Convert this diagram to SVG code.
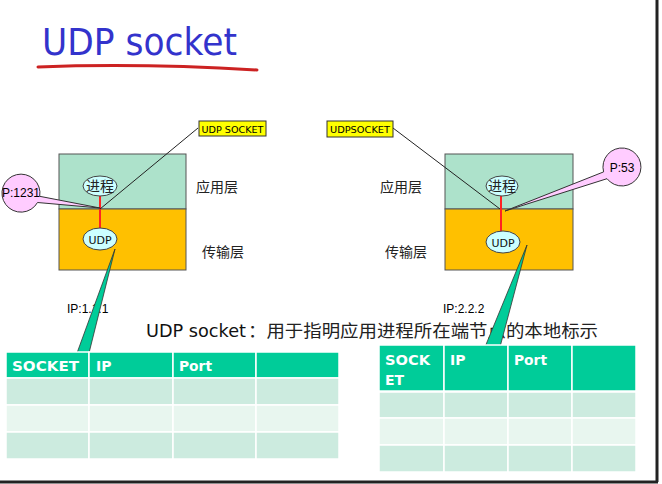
<svg xmlns="http://www.w3.org/2000/svg" width="662" height="484" viewBox="0 0 662 484">
<style>
.app{fill:#ADE2CB;stroke:#555;stroke-width:1}
.tr{fill:#FFC000;stroke:#555;stroke-width:1}
.ell{fill:#CCFFFF;stroke:#444;stroke-width:1}
.lbl{font-family:"Liberation Sans","Noto Sans CJK SC",sans-serif;font-size:12px;fill:#000}
.cn{font-family:"Noto Sans CJK SC","Liberation Sans",sans-serif;font-size:14px;fill:#222}
.comic{font-family:"DejaVu Sans","Noto Sans CJK SC",sans-serif}
.tag{fill:#FFFF00;stroke:#333;stroke-width:1}
.bub{fill:#FFCCFF;stroke:#333;stroke-width:1}
.wedge{fill:#00CC99;stroke:#333;stroke-width:0.8}
.hd{fill:#00CC99;stroke:#fff;stroke-width:1.5}
.r1{fill:#CCEBDF;stroke:#fff;stroke-width:1.5}
.r2{fill:#E8F6EF;stroke:#fff;stroke-width:1.5}
.ht{font-family:"DejaVu Sans",sans-serif;font-weight:bold;font-size:14px;fill:#fff}
</style>
<rect x="0" y="0" width="662" height="484" fill="#fff"/>
<g id="frame">
<line x1="657" y1="0" x2="657" y2="482" stroke="#222" stroke-width="3"/>
<line x1="0" y1="482" x2="658" y2="482" stroke="#222" stroke-width="3"/>
</g>
<g id="title">
<text x="42" y="55" class="comic" font-size="37" fill="#3333CC" textLength="195" lengthAdjust="spacingAndGlyphs">UDP socket</text>
<path d="M38,67 Q140,63 257,70" fill="none" stroke="#CC2222" stroke-width="3" stroke-linecap="round"/>
</g>
<g id="host-left">
<rect class="app" x="59" y="154" width="127" height="55"/>
<rect class="tr" x="59" y="209" width="127" height="61"/>
<text class="cn" x="196" y="192">应用层</text>
<text class="cn" x="202" y="257">传输层</text>
</g>
<g id="host-right">
<rect class="app" x="445" y="154" width="128" height="55"/>
<rect class="tr" x="445" y="209" width="128" height="61"/>
<text class="cn" x="380" y="192">应用层</text>
<text class="cn" x="385" y="257">传输层</text>
</g>
<g id="connectors">
<line x1="100" y1="196" x2="100" y2="228" stroke="#FF2222" stroke-width="2"/>
<line x1="501" y1="196" x2="501" y2="231" stroke="#FF2222" stroke-width="2"/>
<line x1="198" y1="128" x2="100" y2="209" stroke="#222" stroke-width="1"/>
<line x1="393" y1="128" x2="500" y2="209" stroke="#222" stroke-width="1"/>
</g>
<g id="proc-left">
<ellipse class="ell" cx="100" cy="186" rx="17" ry="10"/>
<text class="cn" x="100" y="190.5" font-size="12" text-anchor="middle">进程</text>
</g>
<g id="udp-left">
<ellipse class="ell" cx="100" cy="239" rx="17" ry="11"/>
<text class="comic" x="100" y="243.5" font-size="11" text-anchor="middle" fill="#111">UDP</text>
</g>
<g id="proc-right">
<ellipse class="ell" cx="502" cy="186" rx="16" ry="10"/>
<text class="cn" x="502" y="190.5" font-size="12" text-anchor="middle">进程</text>
</g>
<g id="udp-right">
<ellipse class="ell" cx="503" cy="242" rx="17" ry="11"/>
<text class="comic" x="503" y="246.5" font-size="11" text-anchor="middle" fill="#111">UDP</text>
</g>
<g id="tag-left">
<rect class="tag" x="199" y="121" width="67" height="15"/>
<text class="comic" x="232.5" y="132.5" font-size="9" text-anchor="middle" textLength="62" lengthAdjust="spacingAndGlyphs">UDP SOCKET</text>
</g>
<g id="tag-right">
<rect class="tag" x="327" y="121" width="66" height="16"/>
<text class="comic" x="360" y="133" font-size="9" text-anchor="middle" textLength="60" lengthAdjust="spacingAndGlyphs">UDPSOCKET</text>
</g>
<g id="port-left">
<path class="bub" d="M39.7,196.3 L100,208 L37.5,202.5 A19,19 0 1 1 39.7,196.3 Z"/>
<text class="lbl" x="2" y="197" font-size="12">P:1231</text>
</g>
<g id="port-right">
<path class="bub" d="M603.6,171.9 L505,211 L607,178.7 A19,19 0 1 0 603.6,171.9 Z"/>
<text class="lbl" x="622" y="172" font-size="13" text-anchor="middle">P:53</text>
</g>
<g id="ip-labels">
<text class="lbl" x="67" y="313">IP:1.1.1</text>
<text class="lbl" x="443" y="313">IP:2.2.2</text>
</g>
<g id="caption">
<text x="146" y="337" class="comic" font-size="17" fill="#111" textLength="100" lengthAdjust="spacingAndGlyphs">UDP socket</text>
<text x="248" y="337" font-family="Noto Sans CJK SC,sans-serif" font-size="17" fill="#222" textLength="350" lengthAdjust="spacingAndGlyphs">：用于指明应用进程所在端节点的本地标示</text>
</g>
<g id="wedges">
<polygon class="wedge" points="115,249 77,353 89,353"/>
<polygon class="wedge" points="527,245 485,347 500,347"/>
</g>
<g id="table-left">
<rect class="hd" x="6" y="352" width="83" height="26"/>
<rect class="hd" x="89" y="352" width="84" height="26"/>
<rect class="hd" x="173" y="352" width="83" height="26"/>
<rect class="hd" x="256" y="352" width="83" height="26"/>
<rect class="r1" x="6" y="378" width="83" height="27"/>
<rect class="r1" x="89" y="378" width="84" height="27"/>
<rect class="r1" x="173" y="378" width="83" height="27"/>
<rect class="r1" x="256" y="378" width="83" height="27"/>
<rect class="r2" x="6" y="405" width="83" height="27"/>
<rect class="r2" x="89" y="405" width="84" height="27"/>
<rect class="r2" x="173" y="405" width="83" height="27"/>
<rect class="r2" x="256" y="405" width="83" height="27"/>
<rect class="r1" x="6" y="432" width="83" height="27"/>
<rect class="r1" x="89" y="432" width="84" height="27"/>
<rect class="r1" x="173" y="432" width="83" height="27"/>
<rect class="r1" x="256" y="432" width="83" height="27"/>
<text class="ht" x="12" y="371" textLength="67" lengthAdjust="spacingAndGlyphs">SOCKET</text>
<text class="ht" x="96" y="371">IP</text>
<text class="ht" x="179" y="371" textLength="33" lengthAdjust="spacingAndGlyphs">Port</text>
</g>
<g id="table-right">
<rect class="hd" x="379" y="345" width="65" height="46"/>
<rect class="hd" x="444" y="345" width="64" height="46"/>
<rect class="hd" x="508" y="345" width="64" height="46"/>
<rect class="hd" x="572" y="345" width="64" height="46"/>
<rect class="r1" x="379" y="392" width="65" height="26"/>
<rect class="r1" x="444" y="392" width="64" height="26"/>
<rect class="r1" x="508" y="392" width="64" height="26"/>
<rect class="r1" x="572" y="392" width="64" height="26"/>
<rect class="r2" x="379" y="418" width="65" height="27"/>
<rect class="r2" x="444" y="418" width="64" height="27"/>
<rect class="r2" x="508" y="418" width="64" height="27"/>
<rect class="r2" x="572" y="418" width="64" height="27"/>
<rect class="r1" x="379" y="445" width="65" height="27"/>
<rect class="r1" x="444" y="445" width="64" height="27"/>
<rect class="r1" x="508" y="445" width="64" height="27"/>
<rect class="r1" x="572" y="445" width="64" height="27"/>
<text class="ht" x="385" y="365" textLength="45" lengthAdjust="spacingAndGlyphs">SOCK</text>
<text class="ht" x="385" y="385">ET</text>
<text class="ht" x="450" y="365">IP</text>
<text class="ht" x="514" y="365" textLength="33" lengthAdjust="spacingAndGlyphs">Port</text>
</g>
</svg>
